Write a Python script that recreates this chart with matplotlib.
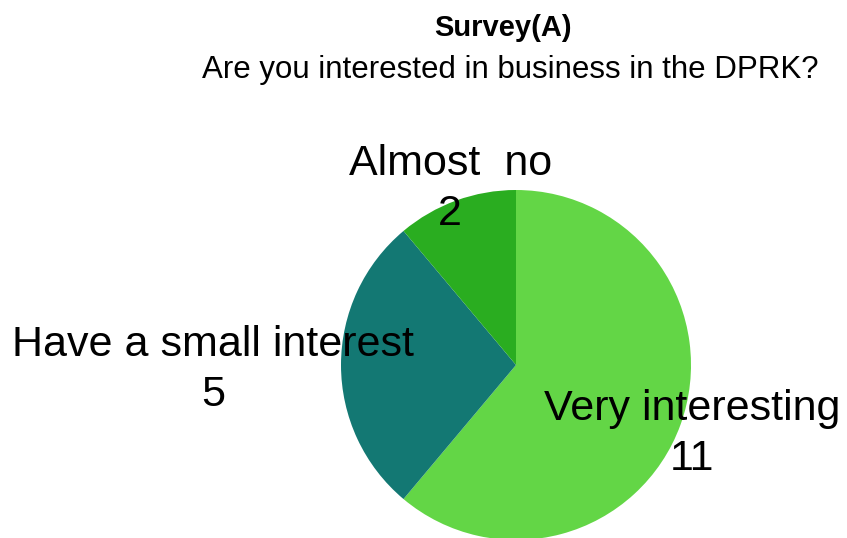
import matplotlib
matplotlib.use("Agg")
import matplotlib.pyplot as plt
import numpy as np

categories = ["Very interesting", "Have a small interest", "Almost  no"]
values = [11, 5, 2]
colors = ["#63D646", "#137873", "#2AAD20"]
title = "Survey(A)"
subtitle = "Are you interested in business in the DPRK?"

W, H = 847, 538
fig = plt.figure(figsize=(W / 100, H / 100), dpi=100)

# pie placement (pixels): center (516, 365), radius 175
cx, cy, r = 516, 365, 175
ax = fig.add_axes([(cx - r) / W, (H - (cy + r)) / H, 2 * r / W, 2 * r / H])
wedges, _ = ax.pie(values, colors=colors, startangle=90, counterclock=False,
                   radius=1.0, wedgeprops=dict(linewidth=0))
ax.set_xlim(-1, 1)
ax.set_ylim(-1, 1)
ax.set_aspect("equal")
ax.axis("off")

label_font = ["Liberation Sans", "DejaVu Sans"]
dists = [1.07, 1.73, 1.10]
for w, cat, v, d in zip(wedges, categories, values, dists):
    ang = np.deg2rad((w.theta1 + w.theta2) / 2)
    x, y = d * np.cos(ang), d * np.sin(ang) - 0.03
    ax.text(x, y, f"{cat}\n{v}", ha="center", va="center", fontsize=31,
            family=label_font, multialignment="center", linespacing=1.32,
            clip_on=False, zorder=5)

fig.text(503 / W, 1 - 28 / H, title, ha="center", va="center", fontsize=21,
         fontweight="bold", family=["Liberation Sans", "DejaVu Sans"])
fig.text(510 / W, 1 - 70 / H, subtitle, ha="center", va="center", fontsize=22.5,
         family=["Liberation Sans", "DejaVu Sans"])

fig.savefig("out.png", dpi=100)
